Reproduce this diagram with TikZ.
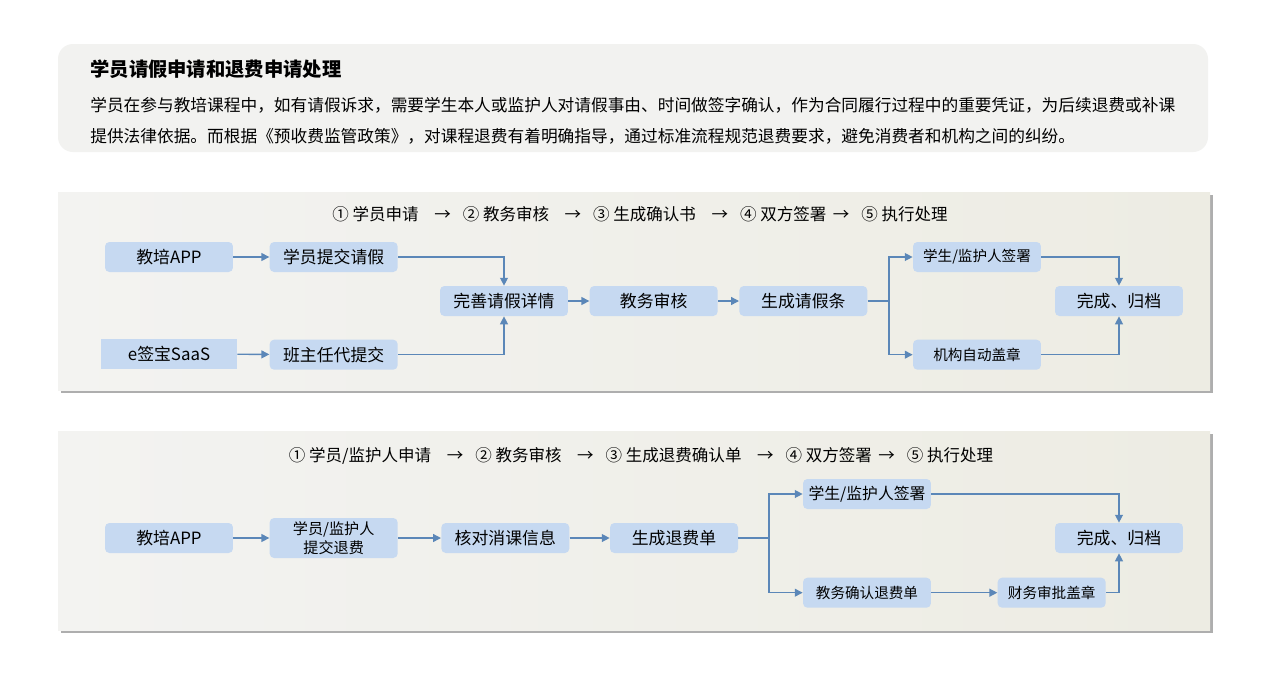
\documentclass[tikz,border=0pt]{standalone}
\usepackage{fontspec}
\setmainfont{Noto Sans CJK SC}
\usetikzlibrary{positioning, arrows.meta, shadows}

\definecolor{boxblue}{HTML}{C6D9F1}
\definecolor{linkblue}{HTML}{5B87B8}
\definecolor{introgray}{HTML}{F2F2F0}
\definecolor{panelleft}{HTML}{F3F3F1}
\definecolor{panelright}{HTML}{EDECE3}

\begin{document}
\begin{tikzpicture}[x=0.02cm, y=-0.02cm,
    box/.style={fill=boxblue, rounded corners=2.5pt, minimum width=2.56cm, minimum height=0.6cm,
      inner sep=1pt, align=center, font=\fontsize{9.6pt}{11pt}\selectfont},
    smallbox/.style={box, font=\fontsize{8.3pt}{10pt}\selectfont},
    arr/.style={-{Triangle[length=4.5pt, width=4.5pt]}, linkblue, line width=0.75pt},
    panel/.style={left color=panelleft, right color=panelright,
      drop shadow={shadow xshift=1.8pt, shadow yshift=-1.8pt, fill=black!45, opacity=0.7}},
    steps/.style={font=\fontsize{9.4pt}{11pt}\selectfont}]
    \fill[white] (0,0) rectangle (1262,674);
    \useasboundingbox (0,0) rectangle (1262,674);

    % intro
    \fill[introgray, rounded corners=0.3cm] (58,44) rectangle (1208,152);
    \node[anchor=base west, inner sep=0pt, font=\bfseries\fontsize{11pt}{13pt}\selectfont] (title) at (90,76)
      {学员请假申请和退费申请处理};
    \node[anchor=base west, inner sep=0pt, font=\fontsize{9.5pt}{11pt}\selectfont] (intro1) at (90,111)
      {学员在参与教培课程中，如有请假诉求，需要学生本人或监护人对请假事由、时间做签字确认，作为合同履行过程中的重要凭证，为后续退费或补课};
    \node[anchor=base west, inner sep=0pt, font=\fontsize{9.5pt}{11pt}\selectfont] (intro2) at (90,142)
      {提供法律依据。而根据《预收费监管政策》，对课程退费有着明确指导，通过标准流程规范退费要求，避免消费者和机构之间的纠纷。};

    % leave panel
    \path[panel] (58,192) rectangle (1210,390);
    \node[steps] (head1) at (640,214)
      {① 学员申请 \ \enspace→\ \enspace ② 教务审核 \ \enspace→\ \enspace ③ 生成确认书 \ \enspace→\ \enspace ④ 双方签署 \,→\ \enspace⑤ 执行处理};
    \node[box]                          (app1)  at (169,257) {教培APP};
    \node[box, right=0.72cm of app1]    (stu1)  {学员提交请假};
    \node[box, sharp corners, minimum width=2.72cm] (saas1) at (169,354) {e签宝SaaS};
    \node[box, below=1.34cm of stu1]    (proxy1) {班主任代提交};
    \node[box]                          (fill1) at (504,301) {完善请假详情};
    \node[box, right=0.42cm of fill1]   (rev1)  {教务审核};
    \node[box, right=0.42cm of rev1]    (note1) {生成请假条};
    \coordinate (fork1) at (889,301);
    \node[smallbox]                     (sign1) at (977,257) {学生/监护人签署};
    \node[smallbox, below=1.34cm of sign1] (seal1) {机构自动盖章};
    \node[box]                          (done1) at (1119,301) {完成、归档};
    \draw[arr] (app1) -- (stu1);
    \draw[arr] (saas1) -- (proxy1);
    \draw[arr] (stu1) -| (fill1);
    \draw[arr] (proxy1) -| (fill1);
    \draw[arr] (fill1) -- (rev1);
    \draw[arr] (rev1) -- (note1);
    \draw[arr] (note1) -- (fork1) |- (sign1);
    \draw[arr] (fork1) |- (seal1);
    \draw[arr] (sign1) -| (done1);
    \draw[arr] (seal1) -| (done1);

    % refund panel
    \path[panel] (58,431) rectangle (1210,630);
    \node[steps] (head2) at (641,456)
      {① 学员/监护人申请 \ \enspace→\ \enspace ② 教务审核 \ \enspace→\ \enspace ③ 生成退费确认单 \ \enspace→\ \enspace ④ 双方签署 \,→\ \enspace⑤ 执行处理};
    \node[box]                          (app2)    at (169,538) {教培APP};
    \node[box, minimum height=0.8cm, right=0.72cm of app2,
      font=\fontsize{8.6pt}{10.6pt}\selectfont] (stu2) {学员/监护人\\提交退费};
    \node[box, right=0.86cm of stu2]    (check2)  {核对消课信息};
    \node[box, right=0.8cm of check2]   (bill2)   {生成退费单};
    \coordinate (fork2) at (769,538);
    \node[smallbox, font=\fontsize{9pt}{11pt}\selectfont] (sign2) at (867,494) {学生/监护人签署};
    \node[smallbox, below=1.36cm of sign2] (confirm2) {教务确认退费单};
    \node[smallbox, minimum width=2.16cm, right=1.32cm of confirm2] (stamp2) {财务审批盖章};
    \node[box]                          (done2)   at (1119,538) {完成、归档};
    \draw[arr] (app2) -- (stu2);
    \draw[arr] (stu2) -- (check2);
    \draw[arr] (check2) -- (bill2);
    \draw[arr] (bill2) -- (fork2) |- (sign2);
    \draw[arr] (fork2) |- (confirm2);
    \draw[arr] (confirm2) -- (stamp2);
    \draw[arr] (sign2) -| (done2);
    \draw[arr] (stamp2) -| (done2);
  \end{tikzpicture}
\end{document}
